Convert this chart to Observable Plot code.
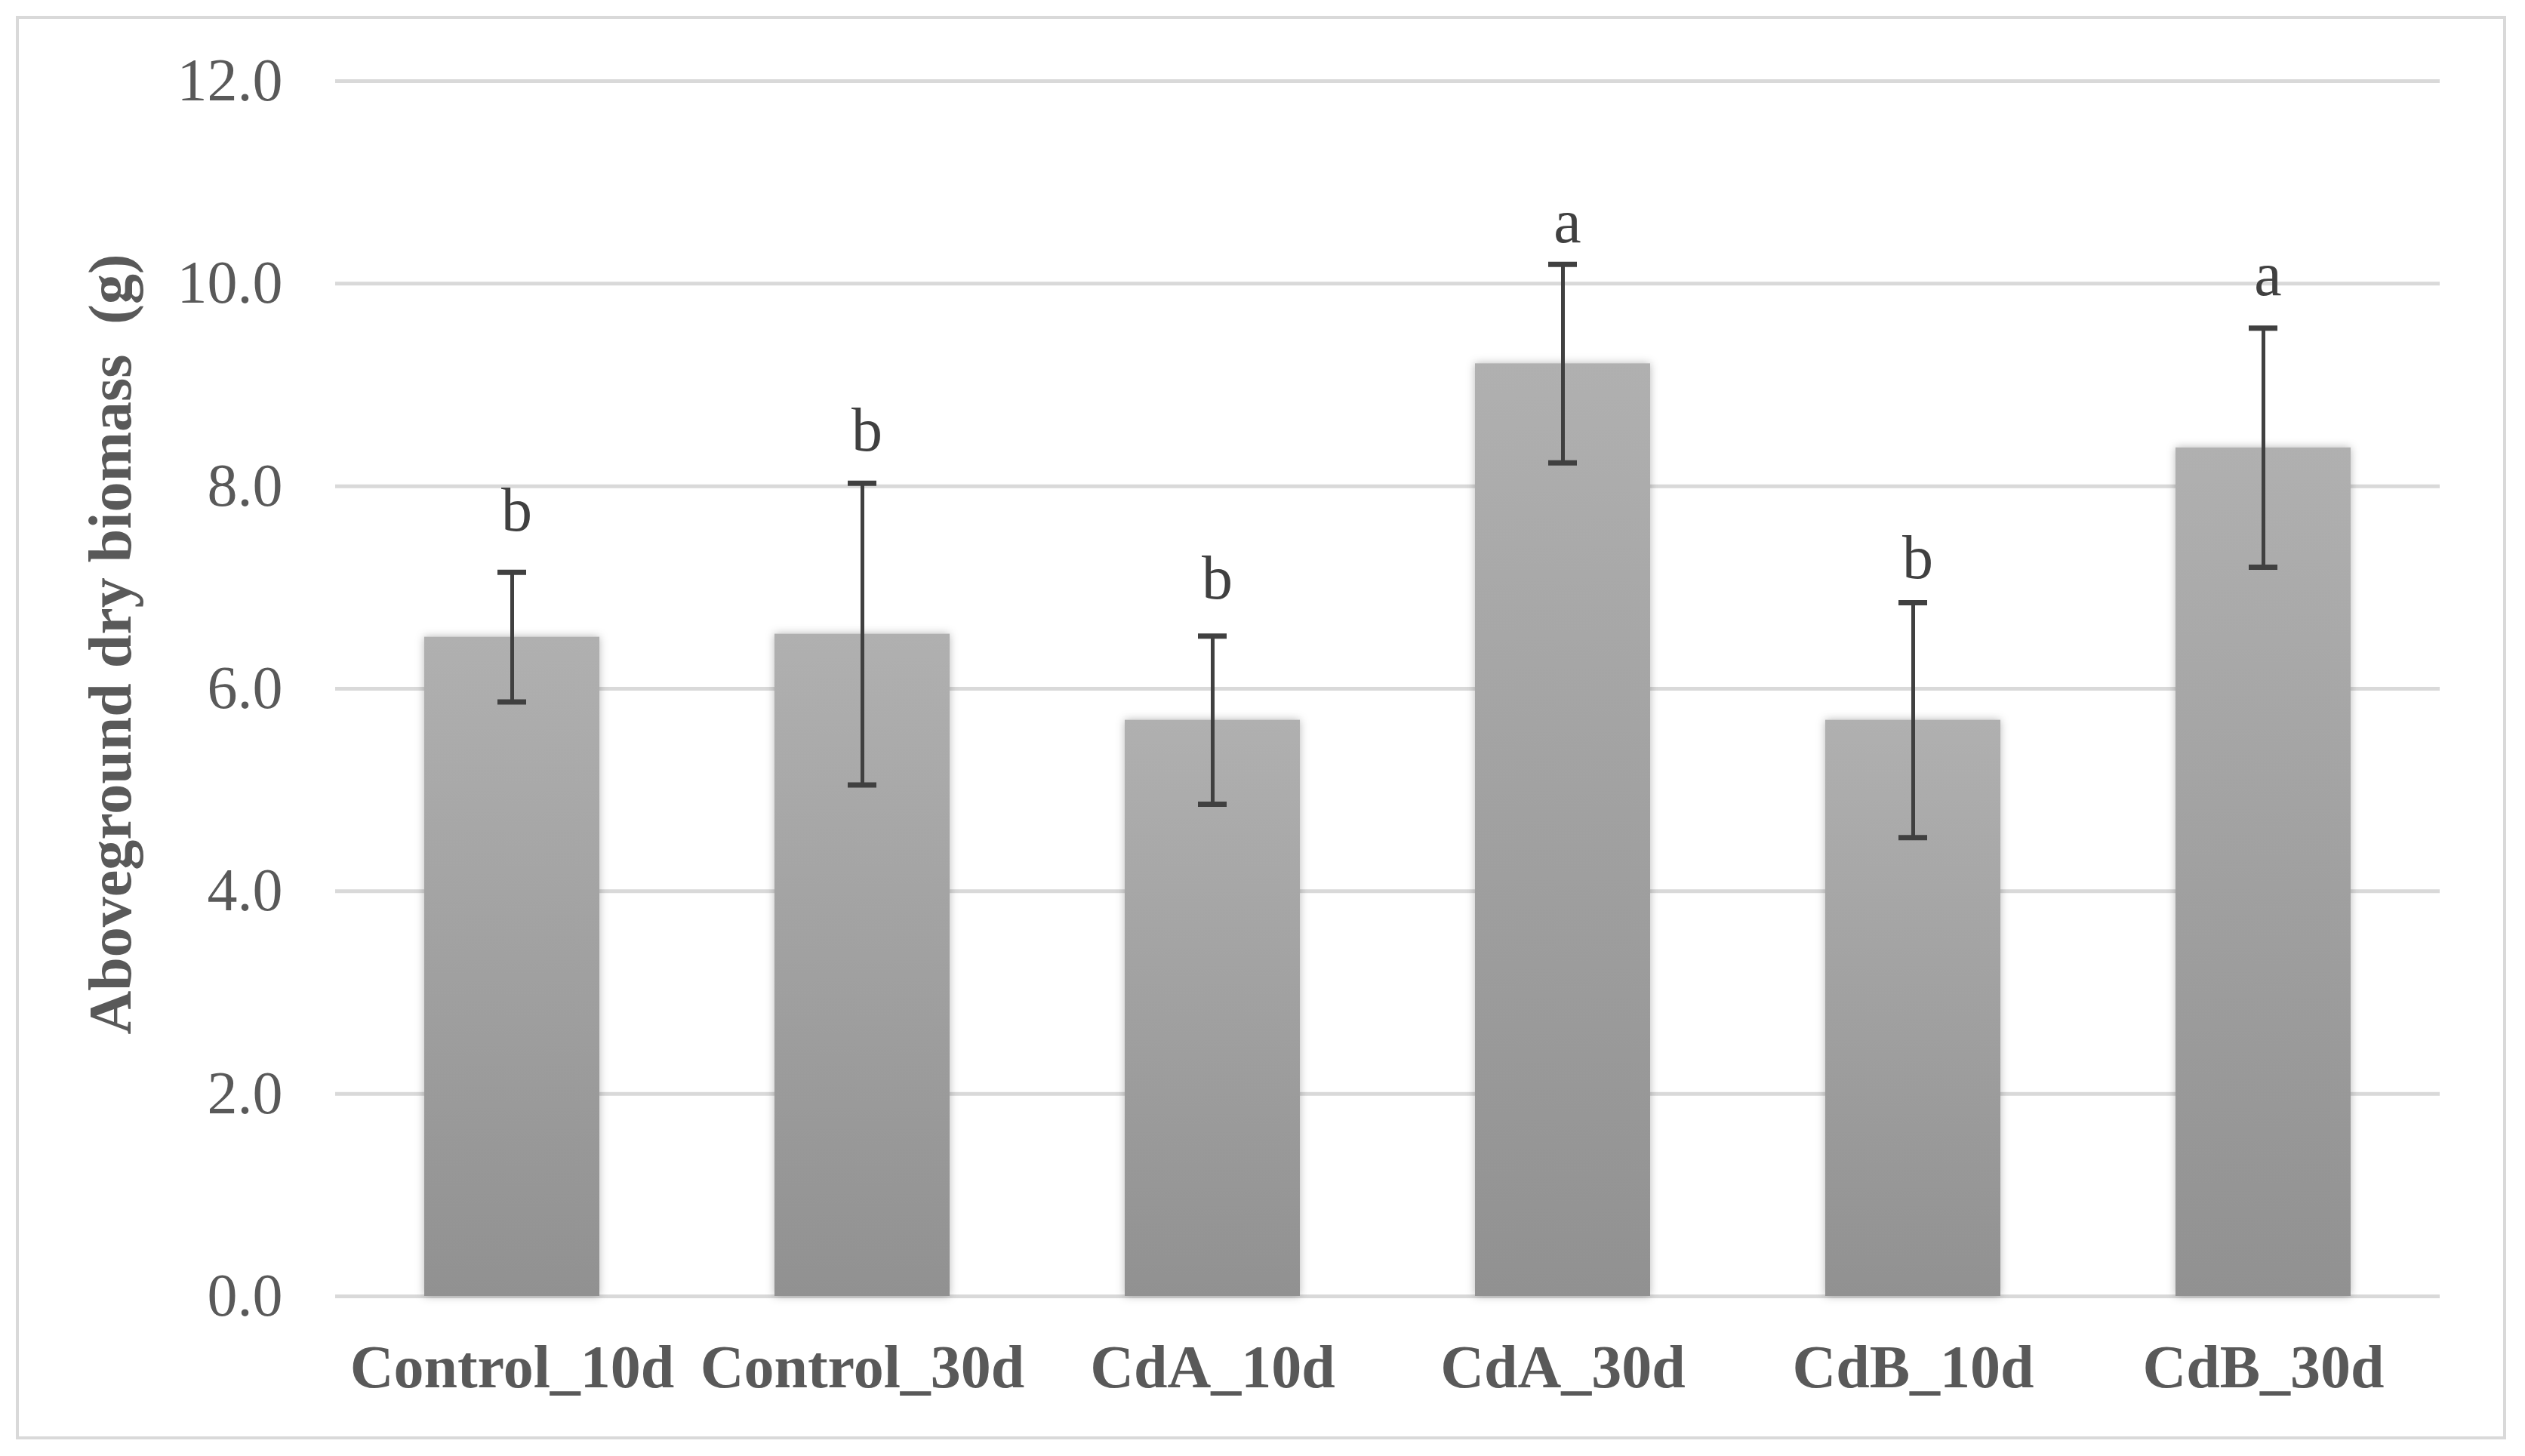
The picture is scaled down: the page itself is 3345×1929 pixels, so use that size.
<!DOCTYPE html>
<html><head><meta charset="utf-8">
<script src="https://cdn.jsdelivr.net/npm/d3@7"></script>
<script src="https://cdn.jsdelivr.net/npm/@observablehq/plot@0.6"></script>
<style>
html,body{margin:0;padding:0;background:#fff;}
#wrap{position:relative;width:3345px;height:1929px;overflow:hidden;}
#wrap svg{position:absolute;left:0;top:0;}
#border{position:absolute;left:21px;top:21px;width:3299px;height:1886px;border:4px solid #d9d9d9;box-sizing:border-box;pointer-events:none;}
</style></head>
<body><div id="wrap"></div>
<script>
const categories = ["Control_10d","Control_30d","CdA_10d","CdA_30d","CdB_10d","CdB_30d"];
const means = [6.51, 6.54, 5.69, 9.21, 5.69, 8.38];
const sds = [0.64, 1.49, 0.83, 0.98, 1.16, 1.18];
const letters = ["b","b","b","a","b","a"];
const letterY = [7.56, 8.35, 6.89, 10.41, 7.09, 9.89];
const yTicks = [0, 2, 4, 6, 8, 10, 12];
const yLabel = "Aboveground dry biomass  (g)";

const data = categories.map((c, i) => ({
  cat: c, mean: means[i], lo: means[i] - sds[i], hi: means[i] + sds[i],
  letter: letters[i], ly: letterY[i]
}));

const plot = Plot.plot({
  width: 3345, height: 1929,
  marginLeft: 444, marginRight: 113, marginTop: 107, marginBottom: 212,
  style: {fontFamily: "'Liberation Serif', 'Times New Roman', serif", background: "transparent", overflow: "visible"},
  x: {domain: categories, paddingInner: 0.5, paddingOuter: 0.25, label: null},
  y: {domain: [0, 12], label: null},
  marks: [
    Plot.gridY(yTicks, {stroke: "#d9d9d9", strokeWidth: 5, strokeOpacity: 1}),
    Plot.barY(data, {x: "cat", y: "mean", fill: "url(#barGrad)", className: "bars"}),
    Plot.ruleX(data, {x: "cat", y1: "lo", y2: "hi", stroke: "#404040", strokeWidth: 5}),
    Plot.tickY(data, {x: "cat", y: "lo", stroke: "#404040", strokeWidth: 7, insetLeft: 97, insetRight: 97}),
    Plot.tickY(data, {x: "cat", y: "hi", stroke: "#404040", strokeWidth: 7, insetLeft: 97, insetRight: 97}),
    Plot.text(data, {x: "cat", y: "ly", text: "letter", lineAnchor: "bottom", fontSize: 82, fill: "#404040", dx: 6}),
    Plot.axisY({ticks: yTicks, tickFormat: d3.format(".1f"), tickSize: 0, tickPadding: 70, fontSize: 80, color: "#595959", fill: "#595959", label: null}),
    Plot.axisX({tickSize: 0, tickPadding: 64, fontSize: 80, fontWeight: "bold", color: "#595959", fill: "#595959", label: null}),
    Plot.text([yLabel], {frameAnchor: "left", text: d => d, rotate: -90, textAnchor: "middle", dx: -297, dy: -59, fontSize: 80, fontWeight: "bold", fill: "#595959"})
  ]
});

const ns = "http://www.w3.org/2000/svg";
const defs = document.createElementNS(ns, "defs");
defs.innerHTML = `
  <linearGradient id="barGrad" x1="0" y1="0" x2="0" y2="1">
    <stop offset="0" stop-color="#b0b0b0"/>
    <stop offset="1" stop-color="#919191"/>
  </linearGradient>
  <filter id="soft" x="-20%" y="-5%" width="140%" height="110%">
    <feDropShadow dx="0" dy="0" stdDeviation="6" flood-color="#000" flood-opacity="0.28"/>
  </filter>`;
plot.insertBefore(defs, plot.firstChild);
plot.querySelectorAll("g.bars").forEach(g => g.setAttribute("filter", "url(#soft)"));

const wrap = document.getElementById("wrap");
wrap.appendChild(plot);
const border = document.createElement("div");
border.id = "border";
wrap.appendChild(border);
</script>
</body></html>
